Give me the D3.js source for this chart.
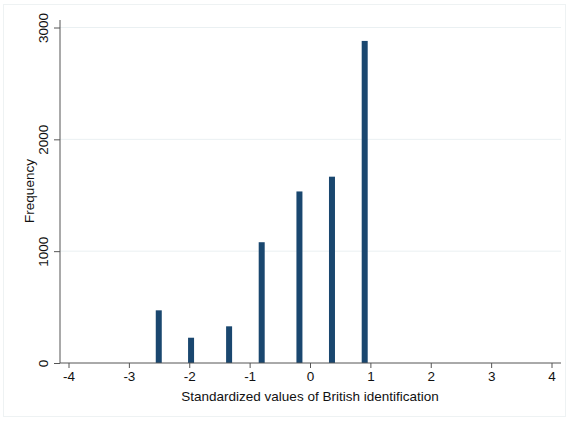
<!DOCTYPE html>
<html><head><meta charset="utf-8">
<script src="https://cdn.jsdelivr.net/npm/d3@7"></script>
<style>body{margin:0;background:#fff}svg{display:block}text{font-family:"Liberation Sans",Arial,Helvetica,sans-serif;fill:#111}</style>
</head><body>
<script>
const xValues = [-2.505, -1.97, -1.34, -0.80, -0.175, 0.364, 0.906];
const frequencies = [471, 226, 328, 1080, 1534, 1666, 2880];
const xTicks = [-4, -3, -2, -1, 0, 1, 2, 3, 4];
const yTicks = [0, 1000, 2000, 3000];
const xTitle = "Standardized values of British identification";
const yTitle = "Frequency";

const W = 570, H = 421;
const FS = 13.5;
const svg = d3.select("body").append("svg").attr("width", W).attr("height", H);
// outer frame
svg.append("rect").attr("x", 3.5).attr("y", 4.5).attr("width", 562).attr("height", 412)
  .attr("fill", "#fff").attr("stroke", "#eef2f3");

const x = d3.scaleLinear().domain([-4, 4]).range([68.5, 551.5]);
const y = d3.scaleLinear().domain([0, 3000]).range([363, 27.5]);
const axisLeft = 60, axisRight = 561;

// gridlines
svg.append("g").selectAll("line").data(yTicks.filter(d => d > 0)).join("line")
  .attr("x1", axisLeft).attr("x2", axisRight)
  .attr("y1", d => y(d)).attr("y2", d => y(d))
  .attr("stroke", "#eaf0f2").attr("stroke-width", 1);

// bars
const bw = 6;
svg.append("g").selectAll("rect").data(xValues).join("rect")
  .attr("x", d => x(d) - bw / 2).attr("width", bw)
  .attr("y", (d, i) => y(frequencies[i]))
  .attr("height", (d, i) => y(0) - y(frequencies[i]))
  .attr("fill", "#1a476f");

// x axis
const gx = svg.append("g").attr("transform", `translate(0,${y(0)})`)
  .call(d3.axisBottom(x).tickValues(xTicks).tickFormat(d => String(d)).tickSize(5).tickPadding(3).tickSizeOuter(0));
gx.select(".domain").remove();
gx.append("line").attr("x1", axisLeft).attr("x2", axisRight).attr("stroke", "#555");
gx.selectAll(".tick line").attr("stroke", "#555");
gx.selectAll(".tick text").attr("font-size", FS).attr("font-family", "Liberation Sans, Arial, sans-serif").attr("fill", "#111");

// y axis
const gy = svg.append("g").attr("transform", `translate(${axisLeft},0)`)
  .call(d3.axisLeft(y).tickValues(yTicks).tickSize(6).tickSizeOuter(0).tickFormat(d => String(d)));
gy.select(".domain").remove();
gy.append("line").attr("y1", 20).attr("y2", y(0)).attr("stroke", "#555");
gy.selectAll(".tick line").attr("stroke", "#555");
gy.selectAll(".tick text").attr("font-size", FS).attr("font-family", "Liberation Sans, Arial, sans-serif").attr("fill", "#111")
  .attr("x", null).attr("dy", null)
  .attr("transform", "translate(-17,0) rotate(-90)")
  .attr("text-anchor", "middle").attr("dominant-baseline", "central");

// titles
svg.append("text").attr("x", 310).attr("y", 401).attr("text-anchor", "middle")
  .attr("font-size", FS).text(xTitle);
svg.append("text").attr("transform", "translate(34,191) rotate(-90)").attr("text-anchor", "middle")
  .attr("font-size", FS).text(yTitle);
</script>
</body></html>
